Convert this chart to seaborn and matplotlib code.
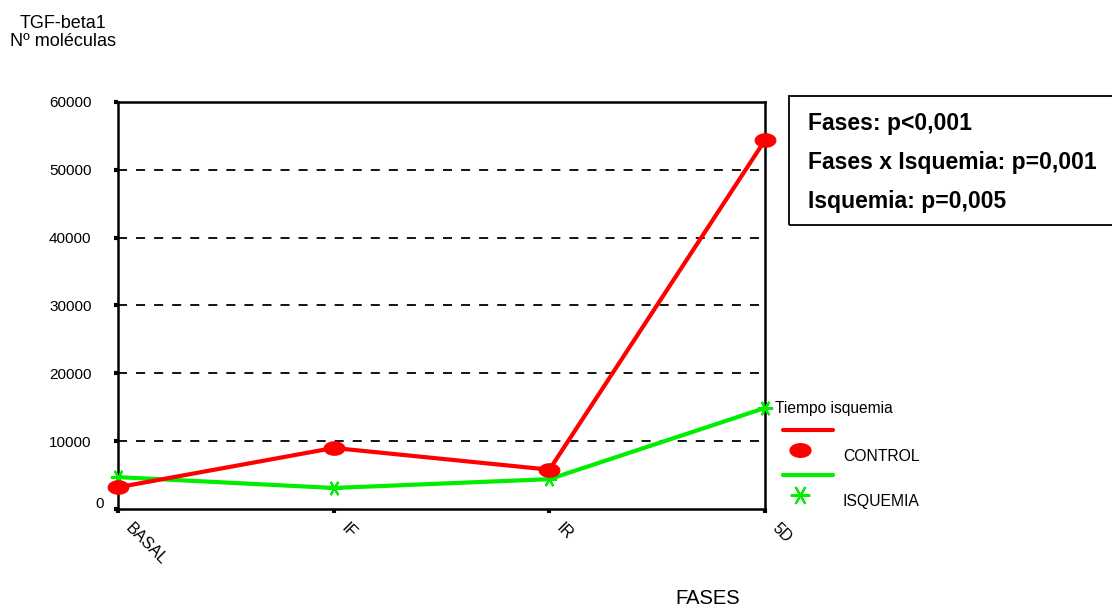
import matplotlib
matplotlib.use("Agg")
import matplotlib.pyplot as plt
from matplotlib.lines import Line2D
from matplotlib.path import Path
from matplotlib.transforms import ScaledTranslation
import numpy as np
import seaborn as sns
import pandas as pd

sns.set_theme(style="white")
plt.rcParams['font.family'] = ['Liberation Sans', 'DejaVu Sans']
plt.rcParams['text.color'] = 'black'
plt.rcParams['xtick.color'] = 'black'
plt.rcParams['ytick.color'] = 'black'

fases = ["BASAL", "IF", "IR", "5D"]
control = [3200, 9000, 5800, 54400]
isquemia = [4700, 3100, 4400, 14900]
grupos = ["CONTROL", "ISQUEMIA"]
yticks = [0, 10000, 20000, 30000, 40000, 50000, 60000]
stats_lines = ["Fases: p<0,001", "Fases x Isquemia: p=0,001", "Isquemia: p=0,005"]

df = pd.DataFrame({
    "fase": fases * 2,
    "pos": list(range(len(fases))) * 2,
    "valor": control + isquemia,
    "grupo": [grupos[0]] * len(fases) + [grupos[1]] * len(fases),
})

RED = "#ff0000"
GREEN = "#00ee00"

# flattened disc marker and a six-armed asterisk with a horizontal arm
t = np.linspace(0, 2 * np.pi, 64)
ellipse = Path(np.column_stack([np.cos(t), 0.65 * np.sin(t)]), closed=True)
star = (6, 2, 90)

styles = {
    grupos[0]: dict(color=RED, marker=ellipse, markersize=15, markeredgecolor=RED, zorder=4),
    grupos[1]: dict(color=GREEN, marker=star, markersize=11, markeredgewidth=1.5,
                    markeredgecolor=GREEN, zorder=3),
}

fig = plt.figure(figsize=(11.12, 6.14), dpi=100)
ax = fig.add_axes([0.1061, 0.171, 0.582, 0.663])

# dashed reference lines at every y tick
for v in yticks[1:]:
    ax.axhline(v, color="black", lw=1.3, ls=(0, (5, 5)), zorder=1)

for g in [grupos[1], grupos[0]]:
    sub = df[df["grupo"] == g]
    sns.lineplot(data=sub, x="pos", y="valor", lw=3, legend=False, ax=ax,
                 clip_on=False, **styles[g])

ax.set_xlim(0, len(fases) - 1)
ax.set_ylim(0, 60000)
ax.set_yticks(yticks)
ax.set_yticklabels([str(v) for v in yticks], fontsize=11)
ax.set_xticks(range(len(fases)))
ax.set_xticklabels(fases, fontsize=11.5, rotation=-45, ha="left", va="top",
                   rotation_mode="anchor")
ax.tick_params(axis="both", which="both", direction="out", length=3, width=3,
               color="black", left=True, bottom=True)
ax.tick_params(axis="y", pad=16)
ax.tick_params(axis="x", pad=5)
shift = ScaledTranslation(15 / 100, 0, fig.dpi_scale_trans)
for lab in ax.get_xticklabels():
    lab.set_transform(lab.get_transform() + shift)
# the zero label sits closer to the axis and slightly raised
zero_lab = ax.get_yticklabels()[0]
zero_lab.set_transform(zero_lab.get_transform()
                       + ScaledTranslation(12 / 100, 7 / 100, fig.dpi_scale_trans))
for s in ax.spines.values():
    s.set_color("black")
    s.set_linewidth(1.8)
ax.set_xlabel("")
ax.set_ylabel("")

# axis titles
fig.text(0.0565, 0.976, "TGF-beta1\nNº moléculas", ha="center", va="top",
         fontsize=13, linespacing=1.1)
fig.text(0.636, 0.010, "FASES", ha="center", va="bottom", fontsize=14.5)

# statistics box
fig.patches.append(plt.Rectangle((0.7095, 0.633), 0.30, 0.210, transform=fig.transFigure,
                                 fill=False, edgecolor="black", lw=1.3))
for i, txt in enumerate(stats_lines):
    fig.text(0.727, 0.799 - i * 0.0635, txt, ha="left", va="center",
             fontsize=16.5, fontweight="bold")

# legend
fig.text(0.697, 0.334, "Tiempo isquemia", ha="left", va="center", fontsize=11.2)
fig.add_artist(Line2D([0.704, 0.749], [0.300, 0.300], color=RED, lw=3,
                      transform=fig.transFigure))
fig.add_artist(Line2D([0.7195], [0.267], color=RED, marker=ellipse, markersize=15,
                      transform=fig.transFigure, ls="none"))
fig.text(0.758, 0.256, grupos[0], ha="left", va="center", fontsize=11.3)
fig.add_artist(Line2D([0.704, 0.749], [0.226, 0.226], color=GREEN, lw=3,
                      transform=fig.transFigure))
fig.add_artist(Line2D([0.7195], [0.194], color=GREEN, marker=star, markersize=14,
                      markeredgewidth=1.5, transform=fig.transFigure, ls="none"))
fig.text(0.758, 0.184, grupos[1], ha="left", va="center", fontsize=11.3)

fig.savefig("out.png", dpi=100, facecolor="white")
